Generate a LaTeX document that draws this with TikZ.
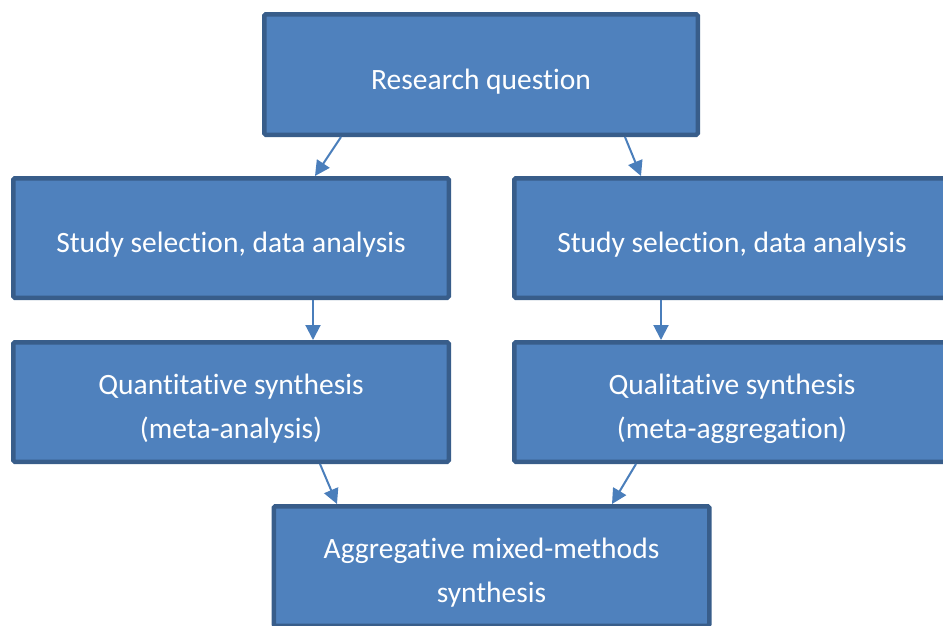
\documentclass[tikz,border=0pt]{standalone}
\usepackage{fontspec}
\setmainfont{Carlito}[Ligatures=NoCommon]
\usetikzlibrary{arrows.meta,calc}
\definecolor{boxfill}{HTML}{4F81BD}
\definecolor{boxline}{HTML}{385D8A}
\definecolor{arrowcol}{HTML}{4A7EBB}
\newcommand\toppad{\rule{0pt}{34pt}}
\begin{document}
\begin{tikzpicture}[x=1pt,y=-1pt,
  box/.style={draw=boxline, fill=boxfill, line width=4.5pt, rounded corners=1.5pt,
    minimum width=435.5pt, minimum height=119.5pt, inner sep=0pt,
    text=white, font=\fontsize{29.5}{44.5}\selectfont, align=center},
  arr/.style={draw=arrowcol, line width=2pt, -{Triangle[length=15pt,width=15pt]}}]
\useasboundingbox (0,0) rectangle (943,625);
\clip (0,0) rectangle (943,625);
\node[box, minimum width=433.5pt, minimum height=120.5pt] (rq) at (481,74.5) {\toppad Research question};
\node[box] (sl) at (231,238) {\toppad Study selection, data analysis};
\node[box] (sr) at (732,238) {\toppad Study selection, data analysis};
\node[box] (ql) at (231,402) {\toppad Quantitative synthesis\\(meta-analysis)};
\node[box] (qr) at (732,402) {\toppad Qualitative synthesis\\(meta-aggregation)};
\node[box] (ag) at (491.5,566) {\toppad Aggregative mixed-methods\\synthesis};
\draw[arr] ($(rq.south)+(-140,0)$) -- ($(sl.north)+(84,0)$);
\draw[arr] ($(rq.south)+(144,0)$) -- ($(sr.north)+(-91,0)$);
\draw[arr] ($(sl.south)+(82,0)$) -- ($(ql.north)+(82,0)$);
\draw[arr] ($(sr.south)+(-71,0)$) -- ($(qr.north)+(-71,0)$);
\draw[arr] ($(ql.south)+(89,0)$) -- ($(ag.north)+(-154.5,0)$);
\draw[arr] ($(qr.south)+(-96,0)$) -- ($(ag.north)+(120.5,0)$);
\end{tikzpicture}
\end{document}
